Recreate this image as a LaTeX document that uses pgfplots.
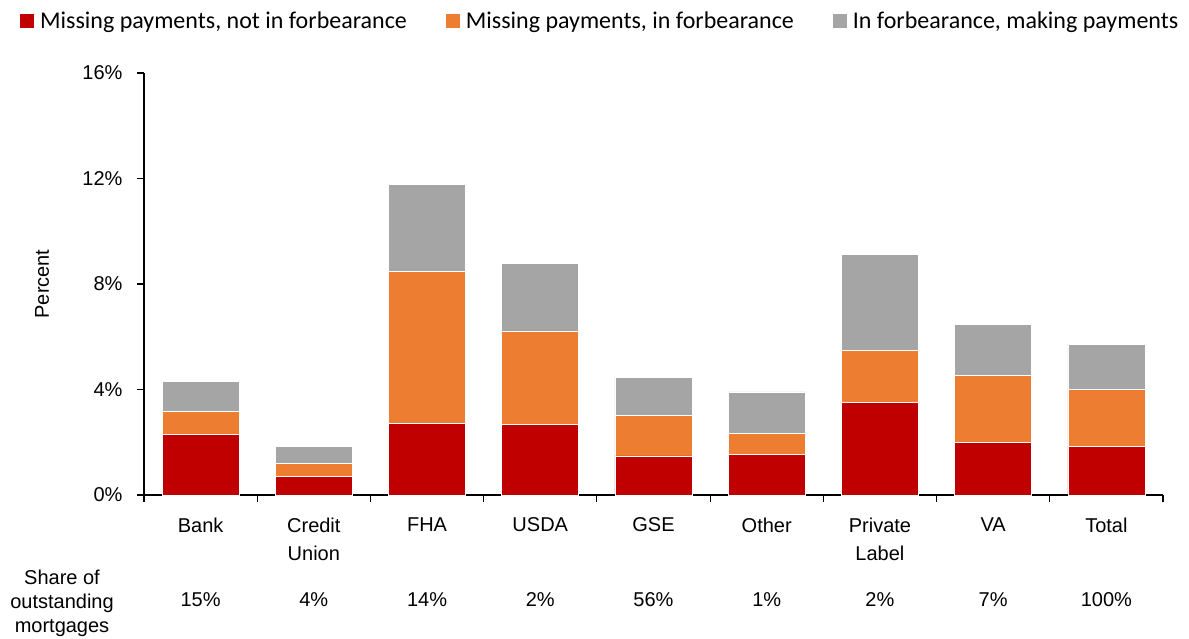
\documentclass[border=0pt]{standalone}
\usepackage{fontspec}
\setmainfont{Liberation Sans}
\newfontfamily\legfont{Carlito}
\usepackage{pgfplots}
\pgfplotsset{compat=1.18}
\definecolor{cred}{HTML}{C00000}
\definecolor{corange}{HTML}{ED7D31}
\definecolor{cgray}{HTML}{A5A5A5}
\begin{document}
\begin{tikzpicture}
\begin{axis}[
  scale only axis,
  width=1019pt, height=422pt,
  ybar stacked,
  bar width=0.68,
  xmin=-0.5, xmax=8.5,
  ymin=0, ymax=16,
  axis lines=left,
  axis line style={line width=1.2pt, -},
  xtick={0,...,8},
  xticklabels={Bank,Credit\\Union,FHA,USDA,GSE,Other,Private\\Label,VA,Total},
  xticklabel style={align=center, font=\fontsize{20}{28}\selectfont, anchor=north, yshift=-12pt},
  major x tick style={draw=none},
  minor xtick={-0.5,0.5,...,8.5},
  minor x tick style={line width=1.2pt, black},
  minor tick length=7pt,
  ytick={0,4,8,12,16},
  yticklabel={\pgfmathprintnumber{\tick}\%},
  yticklabel style={font=\fontsize{20}{22}\selectfont, /pgf/number format/assume math mode=true, xshift=-11pt},
  y tick style={line width=1.2pt, black},
  major tick length=7pt,
  tick align=outside,
  ylabel={Percent},
  ylabel style={font=\fontsize{20}{24}\selectfont, at={(axis description cs:-0.1,0.5)}, anchor=center},
  legend columns=3,
  legend style={draw=none, at={(-0.1217,1.123)}, anchor=west, font=\legfont\fontsize{24}{26}\selectfont,
    /tikz/every odd column/.append style={column sep=4pt},
    /tikz/every even column/.append style={column sep=37pt}, inner sep=0pt},
  legend image code/.code={\fill[#1,draw=none] (0pt,-7pt) rectangle (14pt,7pt);},
  clip=false,
]
\addplot[fill=cred, draw=white, line width=0.6pt] coordinates {(0,2.31) (1,0.69) (2,2.72) (3,2.69) (4,1.48) (5,1.54) (6,3.50) (7,1.98) (8,1.85)};
\addplot[fill=corange, draw=white, line width=0.6pt] coordinates {(0,0.87) (1,0.51) (2,5.77) (3,3.53) (4,1.55) (5,0.80) (6,1.97) (7,2.54) (8,2.14)};
\addplot[fill=cgray, draw=white, line width=0.6pt] coordinates {(0,1.14) (1,0.63) (2,3.30) (3,2.55) (4,1.43) (5,1.57) (6,3.66) (7,1.96) (8,1.72)};
\legend{{Missing payments, not in forbearance},{Missing payments, in forbearance},{In forbearance, making payments}}
\foreach \i/\s in {0/15,1/4,2/14,3/2,4/56,5/1,6/2,7/7,8/100}{
  \edef\tmp{\noexpand\node[font=\noexpand\fontsize{20}{24}\noexpand\selectfont] at ([yshift=-105pt]axis cs:\i,0) {\s\noexpand\%};}
  \tmp
}
\node[font=\fontsize{20}{24}\selectfont, align=center] at ([xshift=-82pt,yshift=-108pt]axis cs:-0.5,0) {Share of\\outstanding\\mortgages};
\end{axis}
\pgfresetboundingbox
\path[use as bounding box] (-144pt,-144pt) rectangle (1045pt,495pt);
\end{tikzpicture}
\end{document}
